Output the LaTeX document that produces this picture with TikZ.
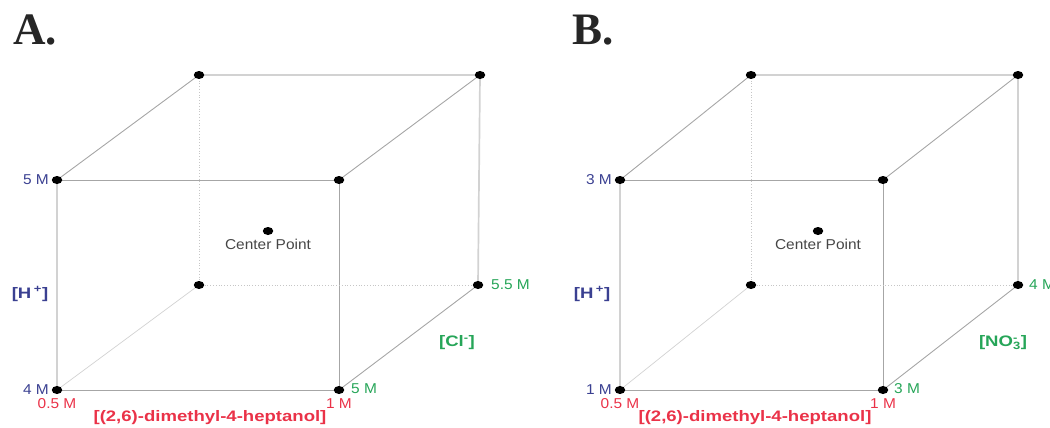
\documentclass[tikz,border=0pt]{standalone}
\usepackage{fontspec}
\setmainfont{Liberation Serif}
\newfontfamily\labf[FakeStretch=1.08]{Liberation Sans}
\newfontfamily\labb[FakeStretch=1.22]{Liberation Sans}
\usetikzlibrary{shapes.geometric,backgrounds}
\definecolor{hblue}{RGB}{58,64,145}
\definecolor{lred}{RGB}{234,50,72}
\definecolor{lgreen}{RGB}{38,165,88}
\definecolor{ctext}{RGB}{70,70,70}
\tikzset{
  vdot/.style={ellipse, fill=black, inner sep=0pt, minimum width=10.5pt, minimum height=8pt},
  lab/.style={font=\labf\fontsize{14.3}{16}\selectfont, inner sep=0pt},
  blab/.style={font=\labb\bfseries\fontsize{15.2}{17}\selectfont, inner sep=0pt},
  ttl/.style={font=\bfseries\fontsize{45}{45}\selectfont, inner sep=0pt, anchor=base west, text=black!85},
  edge/.style={draw=gray!70, line width=0.9pt},
  softedge/.style={draw=gray!35, line width=1.7pt},
  hidden/.style={draw=gray!45, line width=0.8pt, dotted},
  diag/.style={draw=gray!35, line width=0.7pt}
}
\begin{document}
\begin{tikzpicture}[x=1pt,y=-1pt]
\useasboundingbox (0,0) rectangle (1050,428);
% titles
\node[ttl] (tA) at (13,45) {A.};
\node[ttl] (tB) at (572,45) {B.};
% cube A corners
\node[vdot] (a1) at (57,180) {};
\node[vdot] (a2) at (339,180) {};
\node[vdot] (a3) at (339,390) {};
\node[vdot] (a4) at (57,390) {};
\node[vdot] (a5) at (199,75) {};
\node[vdot] (a6) at (480,75) {};
\node[vdot] (a7) at (478,285) {};
\node[vdot] (a8) at (199,285) {};
\node[vdot] (ac) at (268,231) {};
% cube B corners
\node[vdot] (b1) at (620,180) {};
\node[vdot] (b2) at (883,180) {};
\node[vdot] (b3) at (883,390) {};
\node[vdot] (b4) at (620,390) {};
\node[vdot] (b5) at (751,75) {};
\node[vdot] (b6) at (1018,75) {};
\node[vdot] (b7) at (1018,285) {};
\node[vdot] (b8) at (751,285) {};
\node[vdot] (bc) at (818,231) {};
\begin{pgfonlayer}{background}
\foreach \c in {a,b}{
  \draw[edge] (\c1.center) -- (\c2.center);
  \draw[edge] (\c2.center) -- (\c3.center);
  \draw[edge] (\c3.center) -- (\c4.center);
  \draw[softedge] (\c4.center) -- (\c1.center);
  \draw[softedge] (\c5.center) -- (\c6.center);
  \draw[softedge] (\c6.center) -- (\c7.center);
  \draw[edge] (\c1.center) -- (\c5.center);
  \draw[edge] (\c2.center) -- (\c6.center);
  \draw[edge] (\c3.center) -- (\c7.center);
  \draw[hidden] (\c5.center) -- (\c8.center);
  \draw[hidden] (\c8.center) -- (\c7.center);
  \draw[diag] (\c4.center) -- (\c8.center);
}
\end{pgfonlayer}
% labels A
\node[lab, text=ctext] (acl) at (268,244) {Center Point};
\node[lab, text=hblue, anchor=east] (la1) at (49,180) {5 M};
\node[lab, text=hblue, anchor=east] (la4) at (49,390) {4 M};
\node[blab, text=hblue] (lah) at (30,294) {[H\,\textsuperscript{+}]};
\node[lab, text=lred] (la05) at (57,404) {0.5 M};
\node[lab, text=lred] (la1r) at (339,404) {1 M};
\node[blab, text=lred] (laxa) at (210,418) {[(2,6)-dimethyl-4-heptanol]};
\node[lab, text=lgreen, anchor=west] (la5g) at (351,389) {5 M};
\node[lab, text=lgreen, anchor=west] (la55) at (491,285) {5.5 M};
\node[blab, text=lgreen] (lacl) at (457,343) {[Cl\textsuperscript{-}]};
% labels B
\node[lab, text=ctext] (bcl) at (818,244) {Center Point};
\node[lab, text=hblue, anchor=east] (lb1) at (612,180) {3 M};
\node[lab, text=hblue, anchor=east] (lb4) at (612,390) {1 M};
\node[blab, text=hblue] (lbh) at (592,294) {[H\,\textsuperscript{+}]};
\node[lab, text=lred] (lb05) at (620,404) {0.5 M};
\node[lab, text=lred] (lb1r) at (883,404) {1 M};
\node[blab, text=lred] (lbxa) at (755,418) {[(2,6)-dimethyl-4-heptanol]};
\node[lab, text=lgreen, anchor=west] (lb3g) at (894,389) {3 M};
\node[lab, text=lgreen, anchor=west] (lb4g) at (1029,285) {4 M};
\node[blab, text=lgreen] (lbno) at (1003,343) {[NO\rlap{\textsuperscript{-}}\textsubscript{3}]};
\end{tikzpicture}
\end{document}
